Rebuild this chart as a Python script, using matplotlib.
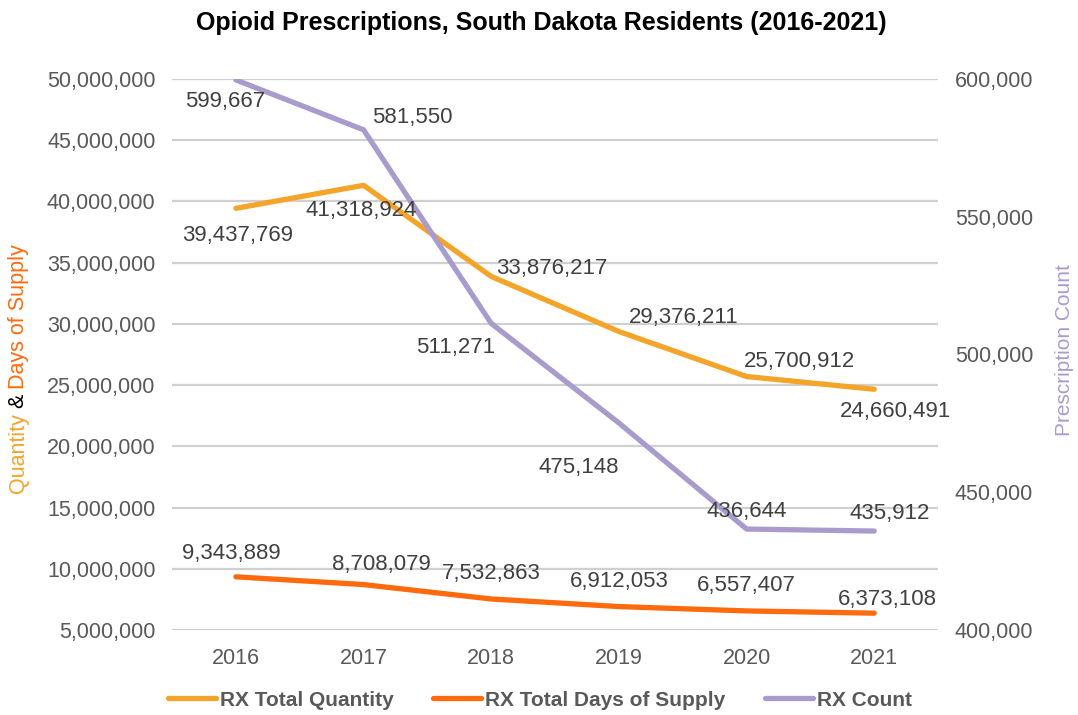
import matplotlib.pyplot as plt
from matplotlib.ticker import FuncFormatter

plt.rcParams['font.family'] = ['Liberation Sans', 'DejaVu Sans']

# data
years = ['2016', '2017', '2018', '2019', '2020', '2021']
rx_quantity = [39437769, 41318924, 33876217, 29376211, 25700912, 24660491]
rx_days = [9343889, 8708079, 7532863, 6912053, 6557407, 6373108]
rx_count = [599667, 581550, 511271, 475148, 436644, 435912]

c_qty = '#F5A42A'
c_days = '#FF6A0D'
c_cnt = '#A99CCD'
c_tick = '#595959'
c_lab = '#404040'

fig = plt.figure(figsize=(10.78, 7.15), dpi=100)
ax = fig.add_axes([0.1596, 0.1189, 0.7106, 0.7706])
ax2 = ax.twinx()

x = range(len(years))
l1, = ax.plot(x, rx_quantity, color=c_qty, lw=3.8, solid_capstyle='round', solid_joinstyle='round')
l2, = ax.plot(x, rx_days, color=c_days, lw=3.8, solid_capstyle='round', solid_joinstyle='round')
l3, = ax2.plot(x, rx_count, color=c_cnt, lw=3.8, solid_capstyle='round', solid_joinstyle='round')

ax.set_xlim(-0.5, 5.5)
ax.set_ylim(5000000, 50000000)
ax.set_yticks(range(5000000, 50000001, 5000000))
ax2.set_ylim(400000, 600000)
ax2.set_yticks(range(400000, 600001, 50000))
ax.set_xticks(list(x))
ax.set_xticklabels(years)

fmt = FuncFormatter(lambda v, p: '{:,.0f}'.format(v))
ax.yaxis.set_major_formatter(fmt)
ax2.yaxis.set_major_formatter(fmt)

ax.grid(axis='y', color='#D0D0D0', lw=1.6)
ax.set_axisbelow(True)
for a in (ax, ax2):
    for s in a.spines.values():
        s.set_visible(False)
    a.tick_params(length=0, labelsize=15.5, labelcolor=c_tick, pad=12)
ax.tick_params(axis='x', pad=13)

# data labels (offsets in pixels)
off_qty = [(2, -27), (-2, -25), (61, 8), (65, 14), (53, 15), (21, -22)]
off_days = [(-5, 23), (18, 20), (0, 25), (0, 25), (0, 25), (13, 14)]
off_cnt = [(-11, -22), (49, 12), (-36, -24), (-40, -45), (0, 18), (15, 18)]

for i in x:
    ax2.annotate('{:,}'.format(rx_quantity[i]), xy=(i, rx_quantity[i]), xycoords=ax.transData,
                 xytext=off_qty[i], textcoords='offset pixels', ha='center', va='center',
                 fontsize=16, color=c_lab, zorder=10)
    ax2.annotate('{:,}'.format(rx_days[i]), xy=(i, rx_days[i]), xycoords=ax.transData,
                 xytext=off_days[i], textcoords='offset pixels', ha='center', va='center',
                 fontsize=16, color=c_lab, zorder=10)
    ax2.annotate('{:,}'.format(rx_count[i]), xy=(i, rx_count[i]), xycoords=ax2.transData,
                 xytext=off_cnt[i], textcoords='offset pixels', ha='center', va='center',
                 fontsize=16, color=c_lab, zorder=10)

# title
fig.text(0.502, 0.968, 'Opioid Prescriptions, South Dakota Residents (2016-2021)',
         ha='center', va='center', fontsize=18, fontweight='bold', color='black')

# multi-colour left axis label
t1 = fig.text(0.0167, 1 - 493 / 715, 'Quantity', rotation=90, ha='center', va='bottom',
              fontsize=15.5, color=c_qty)
t2 = ax.annotate('&', xy=(0.5, 1), xycoords=t1, xytext=(0, 5), textcoords='offset pixels',
                 rotation=90, ha='center', va='bottom', fontsize=15.5, color='black')
t3 = ax.annotate('Days of Supply', xy=(0.5, 1), xycoords=t2, xytext=(0, 5), textcoords='offset pixels',
                 rotation=90, ha='center', va='bottom', fontsize=15.5, color=c_days)

fig.text(1065 / 1078, 1 - 350 / 715, 'Prescription Count', rotation=90, ha='center', va='center',
         fontsize=15, color=c_cnt)

leg = fig.legend([l1, l2, l3], ['RX Total Quantity', 'RX Total Days of Supply', 'RX Count'],
                 loc='center', bbox_to_anchor=(540 / 1078, 1 - 700 / 715), ncol=3, frameon=False,
                 handlelength=2.3, handletextpad=0.2, columnspacing=1.9,
                 prop={'size': 15, 'weight': 'bold'})
for t in leg.get_texts():
    t.set_color(c_tick)

fig.savefig('out.png', dpi=100)
